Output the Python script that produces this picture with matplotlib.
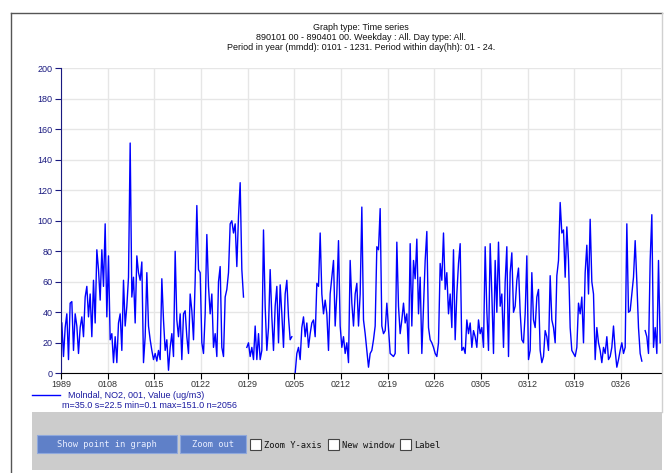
import numpy as np
import pandas as pd
import matplotlib
matplotlib.use("Agg")
import matplotlib.pyplot as plt
from matplotlib.patches import Rectangle
from matplotlib.lines import Line2D

# NO2 at Molndal, every 6 hours (nan = missing)
nan = np.nan
no2_0101_0122 = [33, 11, 30, 39, 9, 46, 47, 15, 39, 31,
                 13, 30, 37, 24, 50, 57, 37, 52, 24, 61,
                 33, 81, 68, 48, 81, 57, 98, 37, 77, 22,
                 26, 7, 24, 7, 33, 39, 15, 61, 31, 44,
                 63, 151, 50, 63, 33, 77, 66, 61, 73, 7,
                 24, 66, 31, 22, 15, 9, 13, 8, 15, 9,
                 62, 35, 15, 22, 2, 17, 26, 11, 80, 35,
                 24, 39, 9, 39, 41, 24, 13, 52, 41, 22,
                 61, 110, 68, 66, 20, 13, 39, 91, 57, 39,
                 52, 17]
no2_0124_0215 = [26, 11, 60, 70, 17, 11, 50, 55, 66, 98,
                 100, 92, 98, 70, 103, 125, 68, 50, nan, 17,
                 20, 11, 17, 9, 31, 9, 26, 9, 15, 94,
                 44, 15, 30, 68, 37, 15, 44, 57, 20, 58,
                 39, 17, 52, 61, 37, 22, 24, nan, 0.1, 13,
                 17, 9, 30, 37, 24, 33, 17, 26, 33, 35,
                 24, 59, 57, 92, 52, 39, 48, 39, 15, 52,
                 63, 74, 31, 52, 87, 31, 17, 24, 13, 20,
                 7, 74, 46, 31, 52, 59, 31, 52, 109, 35,
                 26, 15, 4, 13]
no2_0216_0310 = [15, 22, 31, 83, 81, 108, 31, 26, 28, 46,
                 30, 13, 12, 11, 13, 86, 44, 26, 35, 46,
                 33, 39, 13, 85, 31, 74, 62, 88, 39, 63,
                 13, 44, 74, 93, 30, 22, 20, 17, 13, 11,
                 20, 72, 61, 92, 55, 66, 39, 52, 30, 81,
                 22, 52, 72, 85, 15, 17, 13, 35, 26, 33,
                 17, 28, 24, 17, 35, 26, 30, 17, 83, 41,
                 15, 85, 52, 13, 74, 40, 86, 44, 52, 17,
                 60, 83, 11, 66, 79, 40, 44, 61, 69, 40,
                 22, 20, 39]
no2_0311_0331 = [77, 9, 15, 66, 35, 30, 50, 55, 15, 7,
                 11, 28, 24, 15, 64, 35, 30, 20, 64, 74,
                 112, 92, 94, 63, 96, 74, 30, 15, 13, 11,
                 17, 46, 39, 50, 20, 66, 84, 52, 101, 60,
                 52, 9, 30, 20, 15, 7, 17, 13, 24, 9,
                 11, 17, 31, 15, 4, 9, 15, 20, 13, 17,
                 98, 40, 41, 52, 63, 87, 60, 30, 13, 8,
                 nan, 28, 24, 13, 74, 104, 17, 30, 13, 74,
                 20]

title_lines = ["Graph type: Time series",
               "890101 00 - 890401 00. Weekday : All. Day type: All.",
               "Period in year (mmdd): 0101 - 1231. Period within day(hh): 01 - 24."]
series_name = "Molndal, NO2, 001, Value (ug/m3)"
stats_text = "m=35.0 s=22.5 min=0.1 max=151.0 n=2056"

values = np.array(no2_0101_0122 + no2_0124_0215 + no2_0216_0310 + no2_0311_0331, dtype=float)
times = pd.date_range("1989-01-01 03:00", periods=len(values), freq="6h")
week_ticks = pd.date_range("1989-01-01", "1989-03-26", freq="7D")
week_labels = ["1989"] + [d.strftime("%m%d") for d in week_ticks[1:]]

plt.rcParams['font.family'] = ['Liberation Sans', 'DejaVu Sans']

W, H = 670, 473
fig = plt.figure(figsize=(W / 100, H / 100), dpi=100)

def fx(x):
    return x / W

def fy(y):
    return 1 - y / H

# plot area in pixels: left 61, right 661, top 68, bottom 373
ax = fig.add_axes([fx(61), fy(373.3), fx(600), 305 / H])
ax.plot(times, values, color="#0000ff", lw=1.0)
ax.set_xlim(pd.Timestamp("1989-01-01"), pd.Timestamp("1989-04-01"))
ax.set_ylim(0, 200)
ax.set_yticks(range(0, 201, 20))
ax.set_xticks(week_ticks)
ax.set_xticklabels(week_labels)
ax.grid(True, color="#e6e6e6", lw=1)
ax.set_axisbelow(True)
for s in ["top", "right"]:
    ax.spines[s].set_visible(False)
ax.spines["left"].set_color("#1a1a80")
ax.spines["bottom"].set_color("black")
ax.tick_params(axis="y", colors="#1a1a80", labelsize=6.5, length=4, pad=2)
ax.tick_params(axis="x", colors="black", labelcolor="#333333", labelsize=6.5, length=4, pad=1)

# title
for i, line in enumerate(title_lines):
    fig.text(fx(361), fy(27 + 10.5 * i), line, ha="center", va="center", fontsize=6.5, color="#111111")

# legend below
fig.add_artist(Line2D([fx(32), fx(60)], [fy(395), fy(395)], color="#0000ff", lw=1))
fig.text(fx(68), fy(395), series_name, ha="left", va="center", fontsize=6.5, color="#1a1aa0")
fig.text(fx(62), fy(405.5), stats_text, ha="left", va="center", fontsize=6.5, color="#1a1aa0")

# page frame
fig.add_artist(Line2D([fx(11), fx(11)], [fy(13), fy(473)], color="#555555", lw=1))
fig.add_artist(Line2D([fx(11), fx(662)], [fy(13), fy(13)], color="#555555", lw=1))
fig.add_artist(Line2D([fx(661.5), fx(661.5)], [fy(13), fy(412)], color="#d0d0d0", lw=1))

# control panel
fig.add_artist(Rectangle((fx(32), fy(470)), fx(630), (470 - 412) / H, color="#cccccc", lw=0))
for x0, x1, label in [(37, 177, "Show point in graph"), (180, 246, "Zoom out")]:
    fig.add_artist(Rectangle((fx(x0), fy(453)), fx(x1 - x0), 18 / H,
                             facecolor="#5f80c8", edgecolor="#8fa8dc", lw=0.8))
    fig.text(fx((x0 + x1) / 2), fy(444), label, ha="center", va="center",
             fontsize=6.3, color="#e8eeff", family="DejaVu Sans Mono")
for bx, label in [(250, "Zoom Y-axis"), (328, "New window"), (400, "Label")]:
    fig.add_artist(Rectangle((fx(bx), fy(450)), fx(11), 11 / H,
                             facecolor="white", edgecolor="#444444", lw=0.8))
    fig.text(fx(bx + 14), fy(445), label, ha="left", va="center",
             fontsize=6.3, color="#111111", family="DejaVu Sans Mono")

fig.savefig("out.png", dpi=100)
